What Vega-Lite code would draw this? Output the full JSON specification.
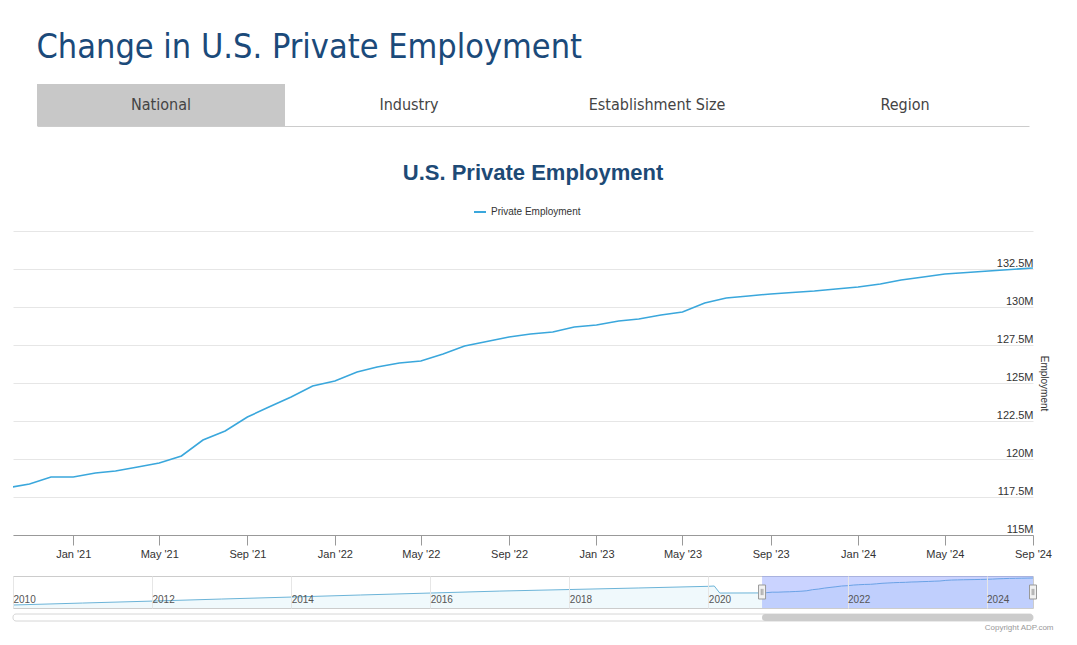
{
  "$schema": "https://vega.github.io/schema/vega-lite/v6.json",
  "background": "white",
  "padding": {"left": 12, "top": 31, "right": 10, "bottom": 4},
  "config": {"view": {"stroke": null}, "font": "Liberation Sans"},
  "title": {"text": "Change in U.S. Private Employment", "anchor": "start", "dx": 24, "fontSize": 34, "font": "DejaVu Sans Condensed, Roboto, sans-serif", "fontWeight": "normal", "color": "#1b4a7a", "offset": 19},
  "resolve": {"legend": {"color": "independent"}},
  "datasets": {
    "tabs": [
      {"tab": "National", "active": "yes"},
      {"tab": "Industry", "active": "no"},
      {"tab": "Establishment Size", "active": "no"},
      {"tab": "Region", "active": "no"}
    ],
    "window": [{"start": "2020-10-09", "end": "2024-09-01"}],
    "emp": [
      {"date": "2010-01-01", "value": 106.4},
      {"date": "2011-01-01", "value": 108.3},
      {"date": "2012-01-01", "value": 110.2},
      {"date": "2013-01-01", "value": 112.2},
      {"date": "2014-01-01", "value": 114.1},
      {"date": "2015-01-01", "value": 116.1},
      {"date": "2016-01-01", "value": 118.0},
      {"date": "2017-01-01", "value": 119.9},
      {"date": "2018-01-01", "value": 121.4},
      {"date": "2019-01-01", "value": 122.9},
      {"date": "2020-01-01", "value": 124.5},
      {"date": "2020-02-01", "value": 124.8},
      {"date": "2020-03-01", "value": 118.0},
      {"date": "2020-10-01", "value": 118.1},
      {"date": "2020-11-01", "value": 118.36},
      {"date": "2020-12-01", "value": 118.82},
      {"date": "2021-01-01", "value": 118.82},
      {"date": "2021-02-01", "value": 119.08},
      {"date": "2021-03-01", "value": 119.21},
      {"date": "2021-04-01", "value": 119.47},
      {"date": "2021-05-01", "value": 119.74},
      {"date": "2021-06-01", "value": 120.2},
      {"date": "2021-07-01", "value": 121.25},
      {"date": "2021-08-01", "value": 121.84},
      {"date": "2021-09-01", "value": 122.76},
      {"date": "2021-10-01", "value": 123.42},
      {"date": "2021-11-01", "value": 124.08},
      {"date": "2021-12-01", "value": 124.8},
      {"date": "2022-01-01", "value": 125.13},
      {"date": "2022-02-01", "value": 125.72},
      {"date": "2022-03-01", "value": 126.05},
      {"date": "2022-04-01", "value": 126.32},
      {"date": "2022-05-01", "value": 126.45},
      {"date": "2022-06-01", "value": 126.91},
      {"date": "2022-07-01", "value": 127.43},
      {"date": "2022-08-01", "value": 127.73},
      {"date": "2022-09-01", "value": 128.03},
      {"date": "2022-10-01", "value": 128.22},
      {"date": "2022-11-01", "value": 128.36},
      {"date": "2022-12-01", "value": 128.68},
      {"date": "2023-01-01", "value": 128.82},
      {"date": "2023-02-01", "value": 129.08},
      {"date": "2023-03-01", "value": 129.21},
      {"date": "2023-04-01", "value": 129.47},
      {"date": "2023-05-01", "value": 129.67},
      {"date": "2023-06-01", "value": 130.26},
      {"date": "2023-07-01", "value": 130.59},
      {"date": "2023-08-01", "value": 130.72},
      {"date": "2023-09-01", "value": 130.86},
      {"date": "2023-10-01", "value": 130.95},
      {"date": "2023-11-01", "value": 131.05},
      {"date": "2023-12-01", "value": 131.18},
      {"date": "2024-01-01", "value": 131.32},
      {"date": "2024-02-01", "value": 131.51},
      {"date": "2024-03-01", "value": 131.78},
      {"date": "2024-04-01", "value": 131.97},
      {"date": "2024-05-01", "value": 132.17},
      {"date": "2024-06-01", "value": 132.27},
      {"date": "2024-07-01", "value": 132.37},
      {"date": "2024-08-01", "value": 132.47},
      {"date": "2024-09-01", "value": 132.57}
    ]
  },
  "spacing": 36,
  "vconcat": [
    {
      "width": 1020,
      "height": 42,
      "data": {"name": "tabs"},
      "encoding": {
        "x": {"field": "tab", "type": "nominal", "sort": null, "scale": {"range": [24, 1016], "paddingInner": 0, "paddingOuter": 0},
          "axis": {"title": null, "labels": false, "ticks": false, "domain": true, "domainColor": "#cccccc", "domainWidth": 1}}
      },
      "layer": [
        {"mark": {"type": "rect", "fill": "#c8c8c8"}, "transform": [{"filter": "datum.active === 'yes'"}]},
        {"mark": {"type": "text", "font": "DejaVu Sans Condensed, Roboto, sans-serif", "fontSize": 16, "color": "#444444"}, "encoding": {"text": {"field": "tab"}}}
      ]
    },
    {
      "spacing": 16,
      "resolve": {"legend": {"color": "independent"}},
      "vconcat": [
        {
          "width": 1020,
          "height": 304,
          "data": {"name": "emp"},
          "title": {"text": "U.S. Private Employment", "fontSize": 22, "fontWeight": "bold", "font": "Liberation Sans", "color": "#1d4a76", "dx": 10, "offset": 20},
          "mark": {"type": "line", "clip": true, "strokeWidth": 1.6},
          "encoding": {
            "x": {"field": "date", "type": "temporal",
              "scale": {"domain": [{"year": 2020, "month": 10, "date": 9}, {"year": 2024, "month": 9, "date": 1}]},
              "axis": {"title": null, "format": "%b '%y", "tickCount": {"interval": "month", "step": 4}, "grid": false,
                "domainColor": "#999999", "tickColor": "#999999", "tickSize": 10, "labelFontSize": 11, "labelColor": "#333333", "labelPadding": 3, "labelFlush": false}},
            "y": {"field": "value", "type": "quantitative",
              "scale": {"domain": [115, 135], "zero": false},
              "axis": {"orient": "right", "title": "Employment", "values": [115, 117.5, 120, 122.5, 125, 127.5, 130, 132.5, 135],
                "labelExpr": "datum.value >= 135 ? '' : datum.value + 'M'", "labelAlign": "right", "labelBaseline": "alphabetic", "labelPadding": 0, "labelOffset": -3,
                "labelFontSize": 11, "labelColor": "#333333", "domain": false, "ticks": false, "grid": true, "gridColor": "#e6e6e6",
                "titleFontSize": 10, "titleFontWeight": "normal", "titleColor": "#333333", "titlePadding": 5}},
            "color": {"datum": "Private Employment", "scale": {"range": ["#3aa7dc"]},
              "legend": {"orient": "none", "legendX": 460, "legendY": -26, "title": null, "direction": "horizontal", "symbolType": "stroke", "symbolSize": 144, "symbolStrokeWidth": 2, "labelFontSize": 10, "labelColor": "#333333"}}
          }
        },
        {
          "spacing": 4,
          "vconcat": [
            {
              "width": 1020,
              "height": 32,
              "view": {"stroke": "#cccccc"},
              "encoding": {
                "x": {"field": "date", "type": "temporal",
                  "scale": {"domain": [{"year": 2010, "month": 1, "date": 1}, {"year": 2024, "month": 9, "date": 1}]},
                  "axis": {"title": null, "format": "%Y", "tickCount": {"interval": "year", "step": 2}, "grid": true, "gridColor": "#e6e6e6", "zindex": 1,
                    "domain": false, "ticks": false, "labelAlign": "left", "labelBaseline": "top", "labelPadding": -14, "labelFontSize": 10, "labelColor": "#555555", "labelFlush": false}}
              },
              "layer": [
                {
                  "data": {"name": "emp"},
                  "mark": {"type": "area", "clip": true, "fill": "#e9f6fb", "line": {"color": "#6cb4d8", "strokeWidth": 1}},
                  "encoding": {"y": {"field": "value", "type": "quantitative", "scale": {"domain": [103.5, 134.5], "zero": false}, "axis": null}}
                },
                {
                  "data": {"name": "window"},
                  "mark": {"type": "rect", "fill": "#6680ff", "opacity": 0.35},
                  "encoding": {"x": {"field": "start", "type": "temporal"}, "x2": {"field": "end"}}
                },
                {
                  "data": {"name": "window"},
                  "transform": [{"fold": ["start", "end"], "as": ["edge", "when"]}],
                  "layer": [
                    {"mark": {"type": "point", "shape": "M-0.5,-1H0.5V1H-0.5Z", "size": 196, "filled": true, "fill": "#f2f2f2", "stroke": "#999999", "strokeWidth": 1, "opacity": 1},
                     "encoding": {"x": {"field": "when", "type": "temporal"}}},
                    {"mark": {"type": "point", "shape": "M-0.12,-0.45V0.45M0.12,-0.45V0.45", "size": 196, "filled": false, "stroke": "#999999", "strokeWidth": 1, "opacity": 1},
                     "encoding": {"x": {"field": "when", "type": "temporal"}}}
                  ]
                }
              ]
            },
            {
              "width": 1020,
              "height": 7,
              "data": {"name": "window"},
              "title": {"text": "Copyright ADP.com", "orient": "bottom", "anchor": "end", "fontSize": 8, "fontWeight": "normal", "color": "#999999", "dx": 20, "offset": 2},
              "layer": [
                {"mark": {"type": "rect", "fill": "#ffffff", "stroke": "#d6d6d6", "cornerRadius": 3}},
                {"mark": {"type": "rect", "fill": "#cccccc", "cornerRadius": 3},
                 "encoding": {
                   "x": {"field": "start", "type": "temporal", "scale": {"domain": [{"year": 2010, "month": 1, "date": 1}, {"year": 2024, "month": 9, "date": 1}]}, "axis": null},
                   "x2": {"field": "end"}}}
              ]
            }
          ]
        }
      ]
    }
  ]
}
